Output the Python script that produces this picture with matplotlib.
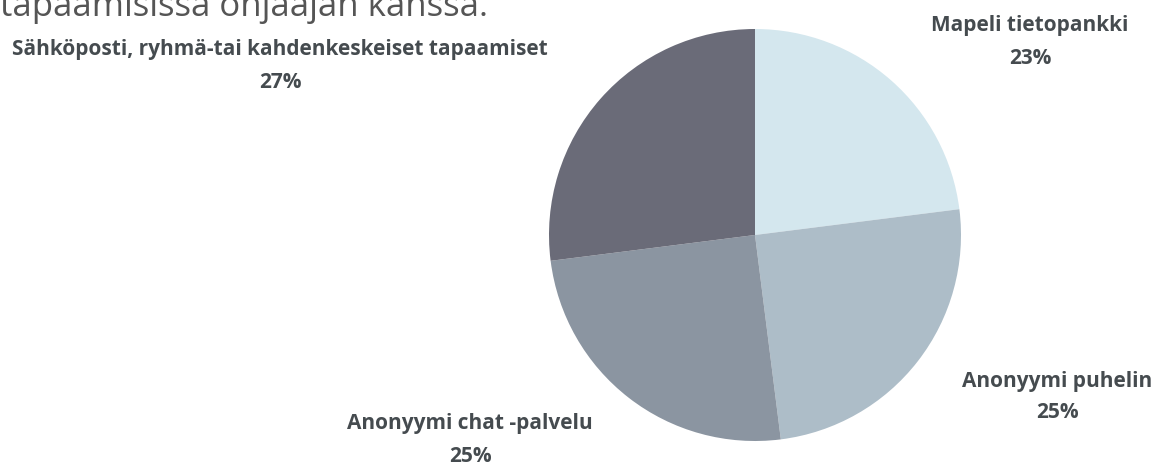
import matplotlib
matplotlib.use("Agg")
import matplotlib.pyplot as plt

categories = ["Mapeli tietopankki", "Anonyymi puhelin", "Anonyymi chat -palvelu",
              "Sähköposti, ryhmä-tai kahdenkeskeiset tapaamiset"]
values = [23, 25, 25, 27]
colors = ["#d4e7ee", "#adbdc8", "#8b95a1", "#6a6b78"]
title = "tapaamisissa ohjaajan kanssa."

W, H = 1157, 466
fig = plt.figure(figsize=(W / 100, H / 100), dpi=100)
fig.patch.set_facecolor("white")

cx, cy, r = 755, 235, 206
ax = fig.add_axes([(cx - r) / W, (H - cy - r) / H, 2 * r / W, 2 * r / H])
ax.pie(values, colors=colors, startangle=90, counterclock=False, radius=1,
       wedgeprops=dict(linewidth=0))
ax.set_xlim(-1, 1)
ax.set_ylim(-1, 1)
ax.set_aspect("equal")
ax.axis("off")

label_pos = [(1030, 25, 58), (1057, 382, 413), (470, 423, 456), (280, 50, 82)]
tc = "#454b4f"
for cat, val, (x, y1, y2) in zip(categories, values, label_pos):
    fig.text(x / W, 1 - y1 / H, cat, ha="center", va="center", fontsize=15,
             fontweight="bold", color=tc, family=["Open Sans", "DejaVu Sans"])
    fig.text(x / W, 1 - y2 / H, f"{val}%", ha="center", va="center", fontsize=15,
             fontweight="bold", color=tc, family=["Open Sans", "DejaVu Sans"])

fig.text(0 / W, 1 - 16 / H, title, ha="left", va="baseline", fontsize=25,
         color="#555555", family=["Open Sans", "DejaVu Sans"])

fig.savefig("out.png", dpi=100, facecolor="white")
